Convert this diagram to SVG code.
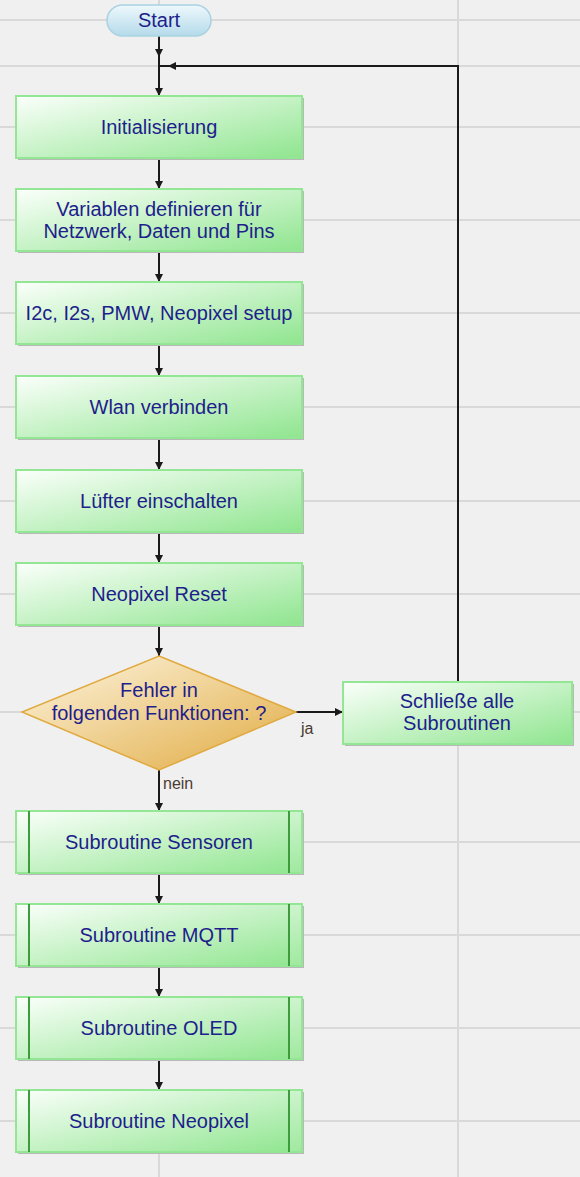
<svg xmlns="http://www.w3.org/2000/svg" width="580" height="1177" viewBox="0 0 580 1177">
  <style>
    .grid { stroke: #d9d9d9; stroke-width: 2; fill: none; }
    .shadow { fill: #b8b8b8; }
    .box { fill: url(#gGreen); stroke: #93e693; stroke-width: 2; }
    .sub { stroke: #3d9d3d; stroke-width: 2; }
    .subr { fill: #ffffff; opacity: 0.15; }
    .lbl { font-family: "Liberation Sans", Arial, sans-serif; font-size: 20px; fill: #1e1e8c; text-anchor: middle; }
    .small { font-family: "Liberation Sans", Arial, sans-serif; font-size: 16px; fill: #4a3c30; }
    .conn { stroke: #1a1a1a; stroke-width: 2; fill: none; }
    .arr { marker-end: url(#ah); }
  </style>
  <defs>
    <linearGradient id="gGreen" x1="0" y1="0" x2="1" y2="1">
      <stop offset="0" stop-color="#fbfffb"/>
      <stop offset="1" stop-color="#8fe58f"/>
    </linearGradient>
    <linearGradient id="gBlue" x1="0" y1="0" x2="0" y2="1">
      <stop offset="0" stop-color="#eef8fc"/>
      <stop offset="1" stop-color="#b4daea"/>
    </linearGradient>
    <linearGradient id="gGold" x1="0" y1="0" x2="1" y2="1">
      <stop offset="0" stop-color="#fef6e2"/>
      <stop offset="1" stop-color="#e0aa40"/>
    </linearGradient>
    <marker id="ah" markerUnits="userSpaceOnUse" markerWidth="9" markerHeight="9" refX="8" refY="4" orient="auto">
      <path d="M0,0 L8,4 L0,8 z" fill="#1a1a1a"/>
    </marker>
  </defs>

  <rect x="0" y="0" width="580" height="1177" fill="#f0f0f0"/>

  <g id="grid">
    <line class="grid" x1="0" y1="20" x2="580" y2="20"/>
    <line class="grid" x1="0" y1="66" x2="580" y2="66"/>
    <line class="grid" x1="0" y1="127" x2="580" y2="127"/>
    <line class="grid" x1="0" y1="220" x2="580" y2="220"/>
    <line class="grid" x1="0" y1="313" x2="580" y2="313"/>
    <line class="grid" x1="0" y1="407" x2="580" y2="407"/>
    <line class="grid" x1="0" y1="501" x2="580" y2="501"/>
    <line class="grid" x1="0" y1="594" x2="580" y2="594"/>
    <line class="grid" x1="0" y1="712" x2="580" y2="712"/>
    <line class="grid" x1="0" y1="842" x2="580" y2="842"/>
    <line class="grid" x1="0" y1="935" x2="580" y2="935"/>
    <line class="grid" x1="0" y1="1028" x2="580" y2="1028"/>
    <line class="grid" x1="0" y1="1121" x2="580" y2="1121"/>
    <line class="grid" x1="159" y1="0" x2="159" y2="1177"/>
    <line class="grid" x1="458" y1="0" x2="458" y2="1177"/>
  </g>

  <g id="connectors">
    <path class="conn arr" d="M159 36 V57"/>
    <path class="conn arr" d="M159 57 V96"/>
    <path class="conn arr" d="M458 682 V66 H168"/>
    <path class="conn" d="M168 66 H159"/>
    <path class="conn arr" d="M159 158 V189"/>
    <path class="conn arr" d="M159 251 V282"/>
    <path class="conn arr" d="M159 344 V376"/>
    <path class="conn arr" d="M159 438 V470"/>
    <path class="conn arr" d="M159 532 V563"/>
    <path class="conn arr" d="M159 625 V656"/>
    <path class="conn arr" d="M296 712 H343"/>
    <path class="conn arr" d="M159 770 V811"/>
    <path class="conn arr" d="M159 873 V904"/>
    <path class="conn arr" d="M159 966 V997"/>
    <path class="conn arr" d="M159 1059 V1090"/>
    <text class="small" x="301" y="734">ja</text>
    <text class="small" x="163" y="789">nein</text>
  </g>

  <g id="start">
    <rect x="107" y="5" width="104" height="31" rx="15.5" fill="url(#gBlue)" stroke="#a8d2e2" stroke-width="1.5"/>
    <text class="lbl" x="159" y="27">Start</text>
  </g>

  <g id="init">
    <rect class="shadow" x="18" y="98" width="286" height="62"/>
    <rect class="box" x="16" y="96" width="286" height="62"/>
    <text class="lbl" x="159" y="134">Initialisierung</text>
  </g>

  <g id="variablen">
    <rect class="shadow" x="18" y="191" width="286" height="62"/>
    <rect class="box" x="16" y="189" width="286" height="62"/>
    <text class="lbl" x="159" y="216">Variablen definieren für</text>
    <text class="lbl" x="159" y="238">Netzwerk, Daten und Pins</text>
  </g>

  <g id="setup">
    <rect class="shadow" x="18" y="284" width="286" height="62"/>
    <rect class="box" x="16" y="282" width="286" height="62"/>
    <text class="lbl" x="159" y="320">I2c, I2s, PMW, Neopixel setup</text>
  </g>

  <g id="wlan">
    <rect class="shadow" x="18" y="378" width="286" height="62"/>
    <rect class="box" x="16" y="376" width="286" height="62"/>
    <text class="lbl" x="159" y="414">Wlan verbinden</text>
  </g>

  <g id="luefter">
    <rect class="shadow" x="18" y="472" width="286" height="62"/>
    <rect class="box" x="16" y="470" width="286" height="62"/>
    <text class="lbl" x="159" y="508">Lüfter einschalten</text>
  </g>

  <g id="neoreset">
    <rect class="shadow" x="18" y="565" width="286" height="62"/>
    <rect class="box" x="16" y="563" width="286" height="62"/>
    <text class="lbl" x="159" y="601">Neopixel Reset</text>
  </g>

  <g id="decision">
    <polygon points="159,656 296,712 159,770 22,712" fill="url(#gGold)" stroke="#e0aa40" stroke-width="1.5"/>
    <text class="lbl" x="159" y="697">Fehler in</text>
    <text class="lbl" x="159" y="720">folgenden Funktionen: ?</text>
  </g>

  <g id="schliesse">
    <rect class="shadow" x="345" y="684" width="229" height="62"/>
    <rect class="box" x="343" y="682" width="229" height="62"/>
    <text class="lbl" x="457" y="708">Schließe alle</text>
    <text class="lbl" x="457" y="730">Subroutinen</text>
  </g>

  <g id="sensoren">
    <rect class="shadow" x="18" y="813" width="286" height="62"/>
    <rect class="box" x="16" y="811" width="286" height="62"/>
    <rect class="subr" x="290" y="812" width="11" height="60"/>
    <line class="sub" x1="29" y1="811" x2="29" y2="873"/>
    <line class="sub" x1="289" y1="811" x2="289" y2="873"/>
    <text class="lbl" x="159" y="849">Subroutine Sensoren</text>
  </g>

  <g id="mqtt">
    <rect class="shadow" x="18" y="906" width="286" height="62"/>
    <rect class="box" x="16" y="904" width="286" height="62"/>
    <rect class="subr" x="290" y="905" width="11" height="60"/>
    <line class="sub" x1="29" y1="904" x2="29" y2="966"/>
    <line class="sub" x1="289" y1="904" x2="289" y2="966"/>
    <text class="lbl" x="159" y="942">Subroutine MQTT</text>
  </g>

  <g id="oled">
    <rect class="shadow" x="18" y="999" width="286" height="62"/>
    <rect class="box" x="16" y="997" width="286" height="62"/>
    <rect class="subr" x="290" y="998" width="11" height="60"/>
    <line class="sub" x1="29" y1="997" x2="29" y2="1059"/>
    <line class="sub" x1="289" y1="997" x2="289" y2="1059"/>
    <text class="lbl" x="159" y="1035">Subroutine OLED</text>
  </g>

  <g id="neopixel">
    <rect class="shadow" x="18" y="1092" width="286" height="62"/>
    <rect class="box" x="16" y="1090" width="286" height="62"/>
    <rect class="subr" x="290" y="1091" width="11" height="60"/>
    <line class="sub" x1="29" y1="1090" x2="29" y2="1152"/>
    <line class="sub" x1="289" y1="1090" x2="289" y2="1152"/>
    <text class="lbl" x="159" y="1128">Subroutine Neopixel</text>
  </g>
</svg>
